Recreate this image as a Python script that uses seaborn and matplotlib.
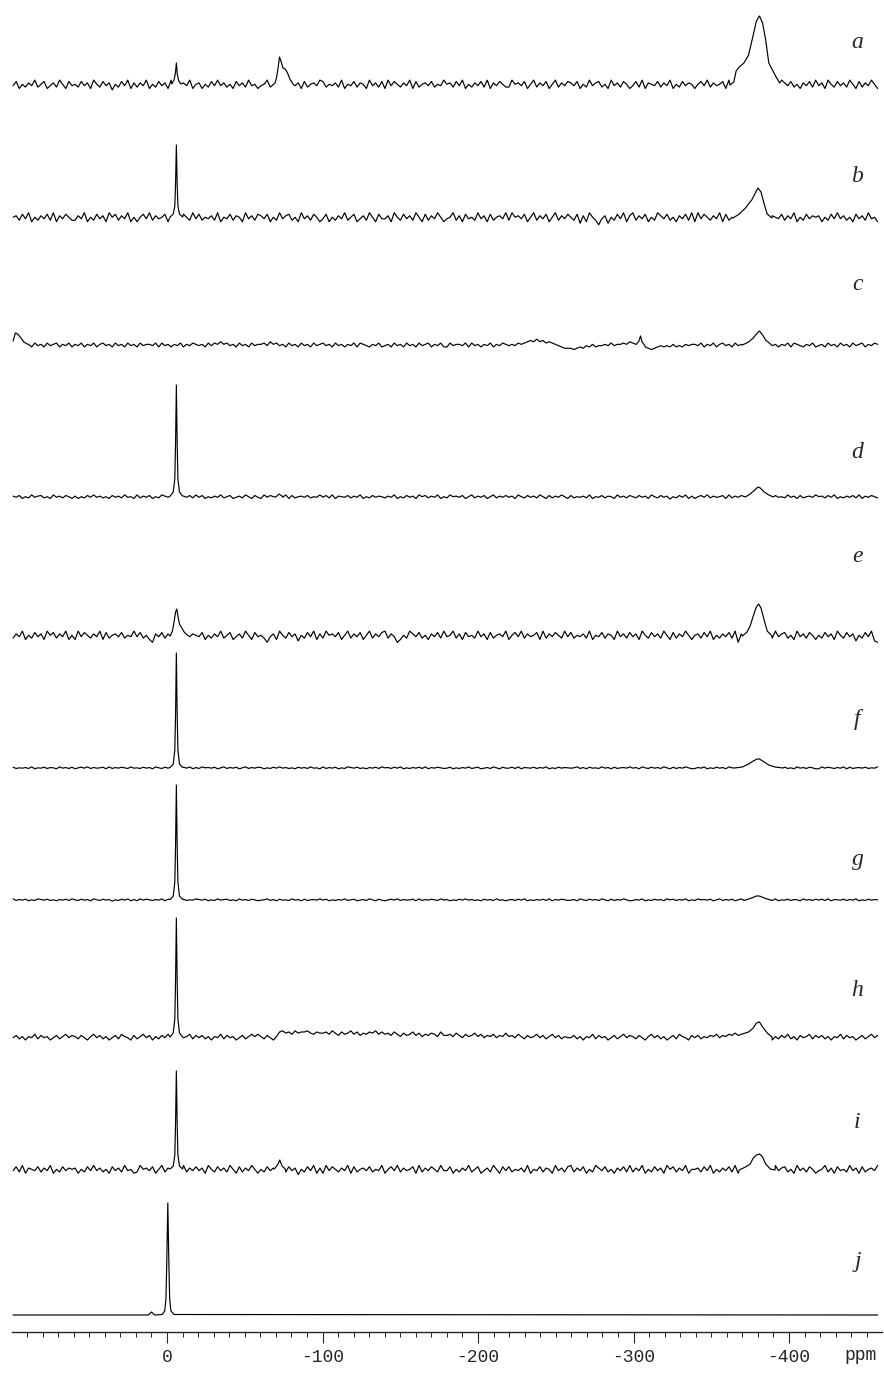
import numpy as np
import pandas as pd
import matplotlib
matplotlib.use("Agg")
import matplotlib.pyplot as plt
import seaborn as sns
from matplotlib.ticker import MultipleLocator

# spectrum labels, top to bottom
traces = list("abcdefghij")

# baseline wiggle, one digit per 2 ppm from +99 to -459 ppm
# (digit 4.5 = flat baseline, scaled per trace by noise_scale)
noise_a = ("47253648357246385274" "53746285374615374826" "36482537462857364825"
           "62537484635274638452" "45836274538462735648" "73546382547365284637"
           "28475364827356473548" "56374825364738264753" "38564725836472583647"
           "64725384673528463752" "47382654736482537465" "25748364572836475384"
           "83647253864735264738" "46285374638527364852")
noise_b = ("56374825364738264753" "36482537462857364825" "25748364572836475384"
           "73546382547365284637" "64725384673528463752" "47253648357246385274"
           "46285374638527364852" "45836274538462735648" "38564725836472583647"
           "53716285304615374826" "83647253864735264738" "28475364827356473548"
           "47382654736482537465" "62537484635274638452")
noise_c = ("45364536453645635463" "54635463564536453645" "36455463645354635465"
           "45364657564536453645" "56475645364536453645" "64536453546365435463"
           "45364536453645635463" "36455463645354635465" "45465678797867654322"
           "21232435344546455657" "65443212343435343545" "54635463564536453645"
           "64536453546365435463" "45364536453645635465")
noise_d = ("64725384673528463752" "62537484635274638452" "83647253864735264738"
           "47253648357246385274" "28475364827356473548" "47382654736482537465"
           "36482537462857364825" "38564725836472583647" "46285374638527364852"
           "73546382547365284637" "53746285374615374826" "25748364572836475384"
           "45836274538462735648" "56374825364738264753")
noise_e = ("36482537462857364825" "28475364827356473548" "47352064736482537465"
           "47253648357246385274" "53046285374615374826" "38564725836472583647"
           "83640253864735264738" "45836274538462735648" "25748364572836475384"
           "73546382547365284637" "46285374638527364852" "56374825364738064753"
           "64725384673528463752" "53746285374615374810")
noise_f = ("73546382547365284637" "25748364572836475384" "53746285374615374826"
           "38564725836472583647" "62537484635274638452" "83647253864735264738"
           "56374825364738264753" "47253648357246385274" "47382654736482537465"
           "45836274538462735648" "46285374638527364852" "36482537462857364825"
           "64725384673528463752" "28475364827356473548")
noise_g = ("83647253864735264738" "53746285374615374826" "28475364827356473548"
           "64725384673528463752" "45836274538462735648" "47253648357246385274"
           "25748364572836475384" "62537484635274638452" "56374825364738264753"
           "46285374638527364852" "36482537462857364825" "38564725836472583647"
           "73546382547365284637" "47382654736482537465")
noise_h = ("35241436253413524635" "42531463524135264315" "24635142536241534625"
           "35241436253413524646" "42531489786978897687" "78697586796857687968"
           "67586475685746576485" "56475364574635463547" "45364253463524635243"
           "35241436253413524635" "42531463524135264315" "35243546354657566767"
           "24635142536241534625" "35241436253413524635")
noise_i = ("47382654736482537465" "62537484635274638452" "38564725836472583647"
           "46285374638527364852" "53746285374615374826" "28475364827356473548"
           "25748364572836475384" "47253648357246385274" "73546382547365284637"
           "83647253864735264738" "36482537462857364825" "56374825364738264753"
           "64725384673528463752" "45836274538462735648")
noise_j = ""
noise_scale = [1.4, 1.5, 1.3, 0.6, 1.4, 0.32, 0.32, 1.15, 1.3, 0.0]

# peaks: ppm positions and matching intensities, one sub-list per peak
peak_ppm_a = [[-3, -4.5, -5.4, -6, -6.6, -7.5, -9],
              [-68, -69.5, -70.5, -71.5, -72.3, -73.3, -74.5, -76, -77.5, -79, -81],
              [-362, -364.5, -366, -368, -371, -374, -377, -379, -381, -383, -385, -387, -389, -391, -394]]
peak_int_a = [[1, 5, 12, 22, 11, 4, 1],
              [0, 2, 8, 18, 28, 24, 17, 16, 12, 6, 1],
              [0, 3, 14, 18, 22, 30, 50, 64, 69, 62, 45, 22, 16, 10, 2]]

peak_ppm_b = [[-2, -4, -5, -5.5, -6, -6.5, -7, -8, -10],
              [-364, -368, -372, -376, -378, -380, -382, -384, -386, -389]]
peak_int_b = [[1, 4, 12, 35, 73, 35, 12, 4, 1],
              [0, 4, 10, 18, 24, 30, 26, 14, 4, 0]]

peak_ppm_c = [[99, 97.5, 96, 94, 92, 90],
              [-302, -303.5, -304.5, -305.5, -307],
              [-370, -374, -377, -379, -381, -383, -385, -388]]
peak_int_c = [[4, 12, 11, 7, 3, 1],
              [1, 4, 9, 3, 0],
              [0, 3, 7, 11, 14, 10, 5, 1]]

peak_ppm_d = [[-2, -4, -5, -5.5, -6, -6.5, -7, -8, -10],
              [-70, -72, -74],
              [-372, -375, -378, -380, -381.5, -384, -387, -390]]
peak_int_d = [[1, 5, 18, 55, 112, 55, 18, 5, 1],
              [0, 3, 1],
              [0, 3, 7, 10, 9, 5, 2, 0]]

peak_ppm_e = [[-2, -3.5, -4.5, -5.5, -6.3, -7, -8, -9.5, -11, -13],
              [-370, -373, -375, -377, -379, -380.5, -382, -384, -386, -389]]
peak_int_e = [[0, 5, 14, 24, 27, 20, 12, 8, 4, 1],
              [0, 4, 10, 20, 29, 32, 28, 16, 5, 0]]

peak_ppm_f = [[-2, -4, -5, -5.5, -6, -6.5, -7, -8, -10],
              [-365, -370, -374, -377, -379.5, -381, -384, -387, -391, -396]]
peak_int_f = [[0.5, 4, 18, 55, 115, 55, 18, 4, 0.5],
              [0, 1, 4, 7, 9, 9, 6, 3, 1, 0]]

peak_ppm_g = [[-2, -4, -5, -5.5, -6, -6.5, -7, -8, -10],
              [-372, -376, -379, -381, -384, -388]]
peak_int_g = [[0.5, 4, 18, 55, 115, 55, 18, 4, 0.5],
              [0, 2, 4, 4, 2, 0]]

peak_ppm_h = [[-2, -4, -5, -5.5, -6, -6.5, -7, -8, -10],
              [-370, -374, -377, -379, -381, -383, -386, -389]]
peak_int_h = [[-1, 3, 17, 57, 118, 57, 17, 3, -1],
              [2, 4, 8, 13, 14, 9, 3, -1]]

peak_ppm_i = [[-2, -4, -5, -5.5, -6, -6.5, -7, -8, -10],
              [-69, -71, -72.5, -74, -76],
              [-368, -372, -375, -377, -379, -381, -383, -385, -388, -391]]
peak_int_i = [[1, 4, 15, 48, 99, 48, 15, 4, 1],
              [1, 5, 10, 4, 1],
              [0, 3, 6, 12, 15, 16, 13, 6, 1, 0]]

peak_ppm_j = [[12, 10, 8],
              [3, 1.5, 0.7, 0.2, -0.5, -1.2, -1.7, -2.5, -4.5]]
peak_int_j = [[0, 3, 0],
              [0.5, 4, 16, 50, 112, 50, 16, 4, 0.5]]

noises = [noise_a, noise_b, noise_c, noise_d, noise_e,
          noise_f, noise_g, noise_h, noise_i, noise_j]
peak_ppms = [peak_ppm_a, peak_ppm_b, peak_ppm_c, peak_ppm_d, peak_ppm_e,
             peak_ppm_f, peak_ppm_g, peak_ppm_h, peak_ppm_i, peak_ppm_j]
peak_ints = [peak_int_a, peak_int_b, peak_int_c, peak_int_d, peak_int_e,
             peak_int_f, peak_int_g, peak_int_h, peak_int_i, peak_int_j]

# layout: vertical stacking offsets (px above the ppm axis) and label heights
offsets = [1247, 1114, 987, 835, 696, 564, 432, 296, 162, 17]
label_y = [1290, 1155, 1047, 880, 776, 613, 472, 342, 209, 70]

PPM_LEFT, PPM_RIGHT = 99, -457


def build_trace(noise, scale, seg_ppm, seg_int):
    if noise:
        grid = np.linspace(PPM_LEFT, PPM_RIGHT, len(noise))
        vals = (np.array([int(ch) for ch in noise]) - 4.5) * scale
    else:
        grid = np.array([PPM_LEFT, PPM_RIGHT], dtype=float)
        vals = np.zeros(2)
    keep = np.ones(len(grid), dtype=bool)
    for sp in seg_ppm:
        keep &= ~((grid <= max(sp)) & (grid >= min(sp)))
    x = list(grid[keep])
    y = list(vals[keep])
    for sp, si in zip(seg_ppm, seg_int):
        x += list(sp)
        y += list(si)
    t = pd.DataFrame({"ppm": x, "inten": y})
    return t.sort_values("ppm", ascending=False)


frames = []
for k, name in enumerate(traces):
    t = build_trace(noises[k], noise_scale[k], peak_ppms[k], peak_ints[k])
    t["trace"] = name
    t["y"] = t["inten"] + offsets[k]
    frames.append(t)
df = pd.concat(frames, ignore_index=True)

sns.set_style("ticks")
plt.rcParams["axes.unicode_minus"] = False
plt.rcParams["font.family"] = ["DejaVu Sans"]

fig = plt.figure(figsize=(8.84, 13.73), dpi=100)
ax = fig.add_axes([12 / 884, 41 / 1373, 870 / 884, 1332 / 1373])

sns.lineplot(data=df, x="ppm", y="y", units="trace", estimator=None,
             sort=False, color="black", linewidth=0.85, legend=False, ax=ax)

for k, name in enumerate(traces):
    ax.text(-444, label_y[k], name, ha="center", va="center",
            fontsize=17, fontstyle="italic", family="Liberation Serif")

ax.set_xlim(99.7, -459.8)
ax.set_ylim(0, 1332)
ax.set_yticks([])
ax.set_xlabel("")
ax.set_ylabel("")
ax.xaxis.set_major_locator(MultipleLocator(100))
ax.xaxis.set_minor_locator(MultipleLocator(10))
ax.tick_params(axis="x", which="major", length=8, width=0.8, pad=4,
               labelsize=13, labelfontfamily="Liberation Mono")
ax.tick_params(axis="x", which="minor", length=3.5, width=0.7)
sns.despine(ax=ax, left=True)
ax.spines["bottom"].set_linewidth(1.0)

fig.text(861 / 884, 1 - 1355 / 1373, "ppm", ha="center", va="center",
         fontsize=13, family="Liberation Mono")

fig.savefig("out.png", dpi=100)
